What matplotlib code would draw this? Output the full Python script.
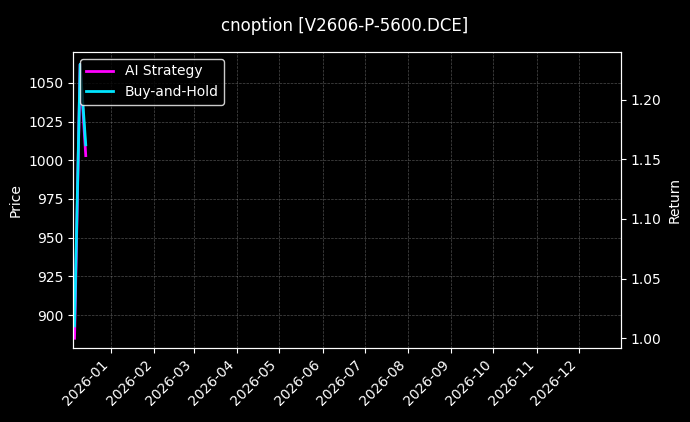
import matplotlib
matplotlib.use("Agg")
import matplotlib.pyplot as plt
import matplotlib.dates as mdates
import numpy as np

dates = np.array(["2025-12-06", "2025-12-10", "2025-12-14"], dtype="datetime64[D]")
ai_strategy = [885, 1062, 1003]
buy_hold = [893, 1062, 1010]

plt.style.use("dark_background")
fig, ax = plt.subplots(figsize=(6.9, 4.22), dpi=100)
fig.subplots_adjust(left=0.106, right=0.9, top=0.877, bottom=0.175)

ax.plot(dates, ai_strategy, color="#ff00ff", lw=2, label="AI Strategy")
ax.plot(dates, buy_hold, color="#00e5ff", lw=2, label="Buy-and-Hold")
ax.set_ylim(878.6, 1070)
ax.set_xlim(np.datetime64("2025-12-05"), np.datetime64("2026-12-31"))
ax.set_ylabel("Price")
ax.grid(True, color="gray", ls="--", lw=0.5, alpha=0.6)
ax.xaxis.set_major_locator(mdates.MonthLocator())
ax.xaxis.set_major_formatter(mdates.DateFormatter("%Y-%m"))
plt.setp(ax.get_xticklabels(), rotation=45, ha="right")
ax.legend(loc="upper left", facecolor="black", edgecolor="white")

ax2 = ax.twinx()
ax2.set_ylim(0.9916, 1.240)
ax2.set_ylabel("Return")

fig.suptitle("cnoption [V2606-P-5600.DCE]", y=0.96)
fig.savefig("out.png", facecolor="black")
